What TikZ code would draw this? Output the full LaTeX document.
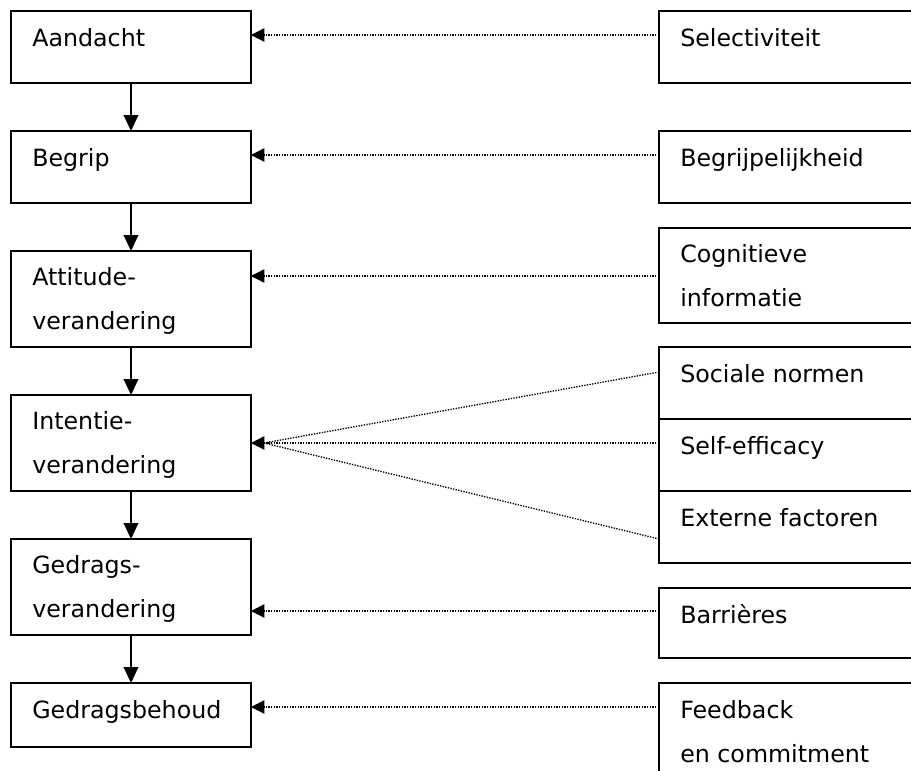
\documentclass[tikz,border=0pt]{standalone}
\usepackage{fontspec}
\setmainfont{DejaVu Sans}
\usetikzlibrary{arrows.meta,calc}
\begin{document}
\begin{tikzpicture}[x=0.75pt,y=-0.75pt,
 box/.style={draw,line width=1pt,rectangle,inner sep=0pt,outer sep=0pt,anchor=north west,minimum width=180pt},
 rbox/.style={draw,line width=1pt,rectangle,inner sep=0pt,outer sep=0pt,anchor=north west,minimum width=200pt},
 txt/.style={anchor=base west,inner sep=0pt,font=\fontsize{17.8pt}{32.3pt}\selectfont,align=left},
 flow/.style={line width=1pt,-{Triangle[length=12pt,width=11pt]}},
 infl/.style={line width=1pt,dash pattern=on 1pt off 1pt,-{Triangle[length=10pt,width=10pt]}},
 infline/.style={line width=1pt,dash pattern=on 1pt off 1pt}]
\useasboundingbox (0,0) rectangle (911,771);
\clip (0,0) rectangle (911,771);
% left column
\node[box,minimum height=54pt] (aan) at (11,11) {};
\node[txt] (taan) at ($(aan.north west)+(21,35)$) {Aandacht};
\node[box,minimum height=54pt] (beg) at (11,131) {};
\node[txt] (tbeg) at ($(beg.north west)+(21,35)$) {Begrip};
\node[box,minimum height=72pt] (att) at (11,251) {};
\node[txt] (tatt) at ($(att.north west)+(21,78)$) {Attitude-\\verandering};
\node[box,minimum height=72pt] (int) at (11,395) {};
\node[txt] (tint) at ($(int.north west)+(21,78)$) {Intentie-\\verandering};
\node[box,minimum height=72pt] (ged) at (11,539) {};
\node[txt] (tged) at ($(ged.north west)+(21,78)$) {Gedrags-\\verandering};
\node[box,minimum height=48pt] (beh) at (11,683) {};
\node[txt] (tbeh) at ($(beh.north west)+(21,35)$) {Gedragsbehoud};
% right column
\node[rbox,minimum height=54pt] (sel) at (659,11) {};
\node[txt] (tsel) at ($(sel.north west)+(21,35)$) {Selectiviteit};
\node[rbox,minimum height=54pt] (bgr) at (659,131) {};
\node[txt] (tbgr) at ($(bgr.north west)+(21,35)$) {Begrijpelijkheid};
\node[rbox,minimum height=71.25pt] (cog) at (659,228) {};
\node[txt] (tcog) at ($(cog.north west)+(21,78)$) {Cognitieve\\informatie};
\node[rbox,minimum height=54pt] (soc) at (659,347) {};
\node[txt] (tsoc) at ($(soc.north west)+(21,35)$) {Sociale normen};
\node[rbox,minimum height=54pt] (sef) at (659,419) {};
\node[txt] (tsef) at ($(sef.north west)+(21,35)$) {Self-efficacy};
\node[rbox,minimum height=54pt] (ext) at (659,491) {};
\node[txt] (text) at ($(ext.north west)+(21,35)$) {Externe factoren};
\node[rbox,minimum height=52.5pt] (bar) at (659,588) {};
\node[txt] (tbar) at ($(bar.north west)+(21,35)$) {Barrières};
\node[rbox,minimum height=75pt] (fee) at (659,683) {};
\node[txt] (tfee) at ($(fee.north west)+(21,79)$) {Feedback\\en commitment};
% flow arrows
\draw[flow] (aan) -- (beg);
\draw[flow] (beg) -- (att);
\draw[flow] (att) -- (int);
\draw[flow] (int) -- (ged);
\draw[flow] (ged) -- (beh);
% influence arrows
\coordinate (p1) at ($(aan.north east)+(0,24)$);
\coordinate (p2) at ($(beg.north east)+(0,24)$);
\coordinate (p3) at ($(att.north east)+(0,25)$);
\coordinate (p4) at ($(int.north east)+(0,48)$);
\coordinate (p4b) at ($(p4)+(13,0)$);
\coordinate (p5) at ($(ged.north east)+(0,72)$);
\coordinate (p6) at ($(beh.north east)+(0,24)$);
\draw[infl] (sel.west |- p1) -- (p1);
\draw[infl] (bgr.west |- p2) -- (p2);
\draw[infl] (cog.west |- p3) -- (p3);
\draw[infl] (sef.west |- p4) -- (p4);
\draw[infline] ($(soc.north west)+(0,25)$) -- (p4b);
\draw[infline] ($(ext.north west)+(0,48)$) -- (p4b);
\draw[infl] (bar.west |- p5) -- (p5);
\draw[infl] (fee.west |- p6) -- (p6);
\end{tikzpicture}
\end{document}
